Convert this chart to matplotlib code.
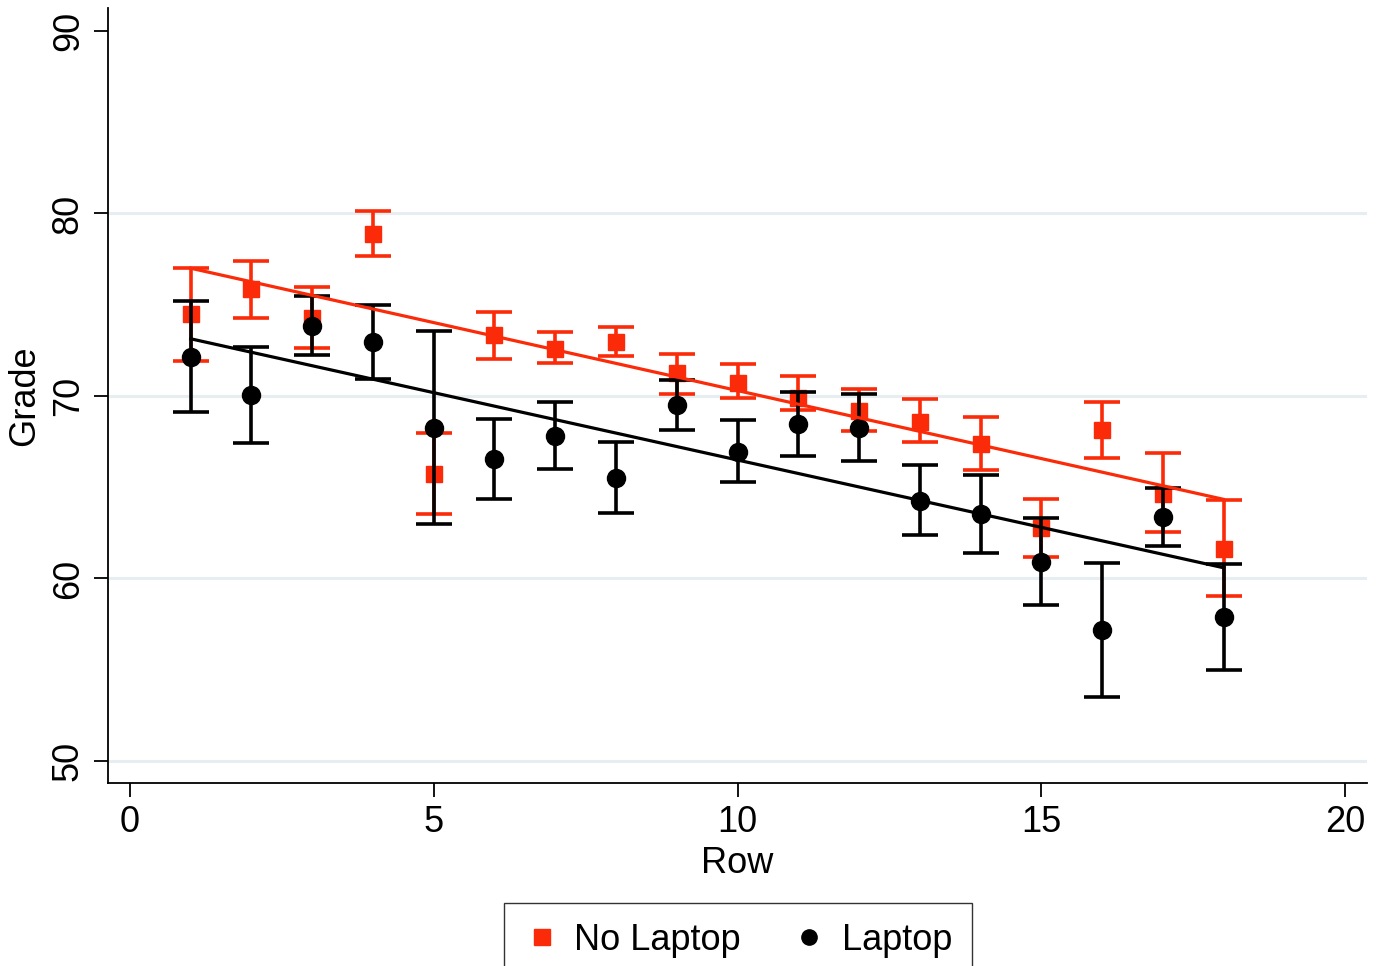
import matplotlib.pyplot as plt
from matplotlib.lines import Line2D
import numpy as np

plt.rcParams['font.family'] = ['Liberation Sans', 'DejaVu Sans']

rows = np.arange(1, 19)

# mean grade, no laptop (with CI bounds)
nolap = [74.47, 75.84, 74.28, 78.89, 65.70, 73.32, 72.58, 72.95, 71.27,
         70.72, 69.90, 69.17, 68.60, 67.38, 62.77, 68.11, 64.60, 61.64]
nolap_hi = [77.02, 77.39, 75.98, 80.16, 67.95, 74.60, 73.51, 73.79, 72.31,
            71.73, 71.09, 70.39, 69.82, 68.86, 64.38, 69.66, 66.85, 64.29]
nolap_lo = [71.90, 74.28, 72.64, 77.66, 63.54, 72.04, 71.78, 72.18, 70.12,
            69.90, 69.22, 68.07, 67.45, 65.93, 61.17, 66.61, 62.56, 59.03]

# mean grade, laptop
lap = [72.13, 70.03, 73.83, 72.95, 68.25, 66.52, 67.80, 65.51, 69.48,
       66.92, 68.44, 68.26, 64.25, 63.54, 60.92, 57.15, 63.37, 57.88]
lap_hi = [75.20, 72.68, 75.47, 74.96, 73.54, 68.71, 69.67, 67.47, 70.85,
          68.67, 70.23, 70.12, 66.21, 65.67, 63.32, 60.82, 64.97, 60.80]
lap_lo = [69.13, 67.43, 72.24, 70.94, 62.96, 64.37, 65.97, 63.60, 68.13,
          65.28, 66.70, 66.43, 62.37, 61.41, 58.54, 53.52, 61.78, 54.98]

# linear fits (intercept, slope)
fit_nolap = (77.745, -0.745)
fit_lap = (73.87, -0.738)

red = '#fb2a08'
blk = 'black'

fig = plt.figure(figsize=(13.78, 9.66), dpi=100)
ax = fig.add_axes([108/1378, 1-783/966, (1367-108)/1378, (783-8)/966])

for g in [50, 60, 70, 80]:
    ax.axhline(g, color='#e6eef1', lw=2.2, zorder=0)

nl = np.array(nolap)
ax.errorbar(rows, nl, yerr=[nl-np.array(nolap_lo), np.array(nolap_hi)-nl],
            fmt='s', color=red, ms=12, elinewidth=2.6, capsize=13, capthick=2.6, zorder=2)
lp = np.array(lap)
ax.errorbar(rows, lp, yerr=[lp-np.array(lap_lo), np.array(lap_hi)-lp],
            fmt='o', color=blk, ms=13, elinewidth=2.6, capsize=13, capthick=2.6, zorder=3)

xf = np.array([1, 18])
ax.plot(xf, fit_nolap[0]+fit_nolap[1]*xf, color=red, lw=2.3, zorder=4)
ax.plot(xf, fit_lap[0]+fit_lap[1]*xf, color=blk, lw=2.3, zorder=4)

ax.set_xlim(-0.362, 20.362)
ax.set_ylim(48.79, 91.26)
ax.set_xticks([0, 5, 10, 15, 20])
ax.set_yticks([50, 60, 70, 80, 90])
ax.spines['top'].set_visible(False)
ax.spines['right'].set_visible(False)
ax.spines['left'].set_linewidth(1.3)
ax.spines['bottom'].set_linewidth(1.3)
ax.tick_params(axis='both', length=10, width=1.3, labelsize=26, pad=6)
for lab in ax.get_yticklabels():
    lab.set_rotation(90)
    lab.set_va('center')
ax.set_xlabel('Row', fontsize=26, labelpad=4)
ax.set_ylabel('Grade', fontsize=26, labelpad=6)

handles = [Line2D([], [], marker='s', color=red, ls='none', ms=11),
           Line2D([], [], marker='o', color=blk, ls='none', ms=11)]
fig.legend(handles, ['No Laptop', 'Laptop'], loc='upper center',
           bbox_to_anchor=(738/1378, 1-903/966), ncol=2, fontsize=26,
           frameon=True, fancybox=False, edgecolor='black', borderpad=0.55,
           handletextpad=0.4, columnspacing=1.4, handlelength=1.0,
           borderaxespad=0)

fig.savefig('out.png', dpi=100)
